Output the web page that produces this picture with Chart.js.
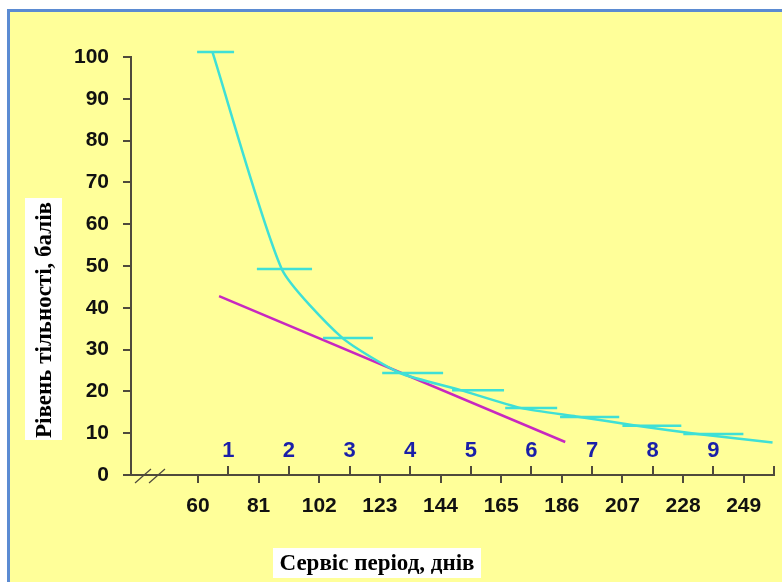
<!DOCTYPE html>
<html>
<head>
<meta charset="utf-8">
<script src="https://cdn.jsdelivr.net/npm/chart.js@4/dist/chart.umd.min.js"></script>
<style>
  html, body { margin: 0; padding: 0; background: #ffffff; }
  .frame {
    position: absolute; left: 7px; top: 9px; width: 800px; height: 600px;
    background: #ffff99; border: 3px solid #5b8bd2; box-sizing: border-box;
  }
  .wrap { position: absolute; left: 0; top: 0; width: 782px; height: 582px; }
</style>
</head>
<body>
<div class="frame"></div>
<div class="wrap"><canvas id="chart" width="782" height="582"></canvas></div>
<script>
const axisColor = "#4f4a3c";
const lineColor = "#3fe0d6";
const trendColor = "#c828c0";
const markColor = "#1a1fa8";

// x axis labels (days)
const dayTicks = [60, 81, 102, 123, 144, 165, 186, 207, 228, 249];
const levelTicks = [0, 10, 20, 30, 40, 50, 60, 70, 80, 90, 100];

// numbered interval marks
const markLabels = ["1", "2", "3", "4", "5", "6", "7", "8", "9"];
const markDays = [70.5, 91.5, 112.5, 133.5, 154.5, 175.5, 196.5, 217.5, 238.5, 259.5];

// interval levels (short horizontal bars)
const barStart = [59.7, 80.4, 103.3, 123.8, 148.0, 166.4, 185.4, 207.0, 228.1];
const barEnd = [72.5, 99.5, 120.6, 144.9, 166.0, 184.4, 205.9, 227.4, 248.9];
const barLevel = [101.2, 49.3, 32.8, 24.4, 20.3, 16.0, 13.9, 11.8, 9.8];

// smoothed curve
const lineDays = [65, 89, 110, 130, 151, 172, 191, 212, 233, 259];
const lineLevel = [101.2, 49.3, 32.8, 24.4, 20.3, 16.0, 14.0, 11.8, 9.8, 7.8];

// straight trend
const trendDays = [67.3, 187.2];
const trendLevel = [42.8, 7.9];

const xTitle = "Сервіс період, днів";
const yTitle = "Рівень тільності, балів";

const barPoints = [];
barLevel.forEach((v, i) => {
  barPoints.push({ x: barStart[i], y: v }, { x: barEnd[i], y: v }, { x: barEnd[i], y: null });
});

const decorPlugin = {
  id: "decor",
  afterDraw(chart) {
    const { ctx, chartArea, scales } = chart;
    const xs = scales.x;
    const ys = scales.y;
    const base = ys.getPixelForValue(0);
    ctx.save();

    // upper ticks on x axis
    ctx.strokeStyle = axisColor;
    ctx.lineWidth = 2;
    markDays.forEach((d) => {
      const px = Math.round(xs.getPixelForValue(d));
      ctx.beginPath();
      ctx.moveTo(px, base - 9);
      ctx.lineTo(px, base);
      ctx.stroke();
    });

    // axis break
    ctx.lineWidth = 1.2;
    [chartArea.left + 4, chartArea.left + 18].forEach((sx) => {
      ctx.beginPath();
      ctx.moveTo(sx, base + 8);
      ctx.lineTo(sx + 16, base - 6);
      ctx.stroke();
    });

    // numbered marks
    ctx.fillStyle = markColor;
    ctx.font = "bold 22px 'Liberation Sans', Arial, sans-serif";
    ctx.textAlign = "center";
    ctx.textBaseline = "alphabetic";
    markLabels.forEach((t, i) => {
      ctx.fillText(t, xs.getPixelForValue(markDays[i]), base - 18);
    });

    // axis titles in white boxes
    ctx.font = "bold 23px 'Liberation Serif', 'Times New Roman', serif";
    ctx.textBaseline = "middle";
    ctx.fillStyle = "#ffffff";
    ctx.fillRect(273, 548, 208, 30);
    ctx.fillStyle = "#000000";
    ctx.fillText(xTitle, 377, 564);

    ctx.fillStyle = "#ffffff";
    ctx.fillRect(25, 198, 37, 242);
    ctx.translate(45, 320);
    ctx.rotate(-Math.PI / 2);
    ctx.fillStyle = "#000000";
    ctx.fillText(yTitle, 0, 0);
    ctx.restore();
  },
};

new Chart(document.getElementById("chart"), {
  type: "line",
  data: {
    datasets: [
      {
        data: barPoints,
        borderColor: lineColor,
        borderWidth: 2.5,
        pointRadius: 0,
        spanGaps: false,
        clip: false,
      },
      {
        data: lineDays.map((d, i) => ({ x: d, y: lineLevel[i] })),
        borderColor: lineColor,
        borderWidth: 2.5,
        pointRadius: 0,
        tension: 0.2,
        clip: false,
      },
      {
        data: trendDays.map((d, i) => ({ x: d, y: trendLevel[i] })),
        borderColor: trendColor,
        borderWidth: 2.5,
        pointRadius: 0,
        clip: false,
      },
    ],
  },
  options: {
    animation: false,
    responsive: false,
    events: [],
    layout: { padding: { left: 0, top: 57, right: 8, bottom: 0 } },
    plugins: { legend: { display: false }, tooltip: { enabled: false } },
    scales: {
      x: {
        type: "linear",
        min: 36.8,
        max: 259.5,
        afterBuildTicks: (scale) => {
          scale.ticks = dayTicks.map((v) => ({ value: v }));
        },
        afterFit: (scale) => {
          scale.height = 107;
        },
        ticks: {
          color: "#111111",
          padding: 11,
          maxRotation: 0,
          autoSkip: false,
          font: { family: "'Liberation Sans', Arial, sans-serif", size: 21, weight: "bold" },
        },
        grid: { drawOnChartArea: false, tickLength: 8, color: axisColor, lineWidth: 2 },
        border: { color: axisColor, width: 2 },
      },
      y: {
        min: 0,
        max: 100,
        afterBuildTicks: (scale) => {
          scale.ticks = levelTicks.map((v) => ({ value: v }));
        },
        afterFit: (scale) => {
          scale.width = 131;
        },
        ticks: {
          color: "#111111",
          padding: 14,
          font: { family: "'Liberation Sans', Arial, sans-serif", size: 21, weight: "bold" },
        },
        grid: { drawOnChartArea: false, tickLength: 8, color: axisColor, lineWidth: 2 },
        border: { color: axisColor, width: 2 },
      },
    },
  },
  plugins: [decorPlugin],
});
</script>
</body>
</html>
